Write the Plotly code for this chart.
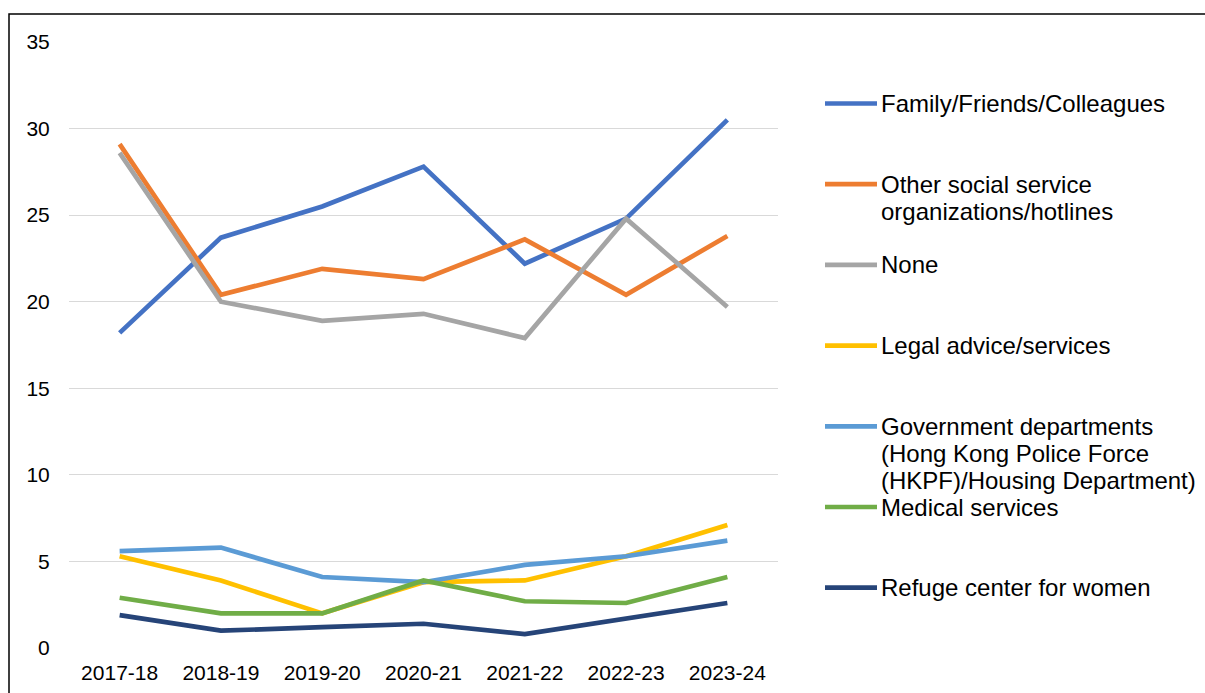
import plotly.graph_objects as go

# Survey years (categories on the x axis)
years = ["2017-18", "2018-19", "2019-20", "2020-21", "2021-22", "2022-23", "2023-24"]

# Percentage of respondents naming each source of help, by year
family_friends = [18.2, 23.7, 25.5, 27.8, 22.2, 24.8, 30.5]
other_social = [29.1, 20.4, 21.9, 21.3, 23.6, 20.4, 23.8]
none_sought = [28.6, 20.0, 18.9, 19.3, 17.9, 24.8, 19.7]
legal_advice = [5.3, 3.9, 2.0, 3.8, 3.9, 5.3, 7.1]
government = [5.6, 5.8, 4.1, 3.8, 4.8, 5.3, 6.2]
medical = [2.9, 2.0, 2.0, 3.9, 2.7, 2.6, 4.1]
refuge = [1.9, 1.0, 1.2, 1.4, 0.8, 1.7, 2.6]

series_names = [
    "Family/Friends/Colleagues",
    "Other social service<br>organizations/hotlines",
    "None",
    "Legal advice/services",
    "Government departments<br>(Hong Kong Police Force<br>(HKPF)/Housing Department)",
    "Medical services",
    "Refuge center for women",
]
series_values = [family_friends, other_social, none_sought, legal_advice,
                 government, medical, refuge]
series_colors = ["#4472C4", "#ED7D31", "#A5A5A5", "#FFC000",
                 "#5B9BD5", "#70AD47", "#264478"]

y_ticks = [0, 5, 10, 15, 20, 25, 30, 35]

# Page geometry (pixels)
W, H = 1205, 693
ML, MR, MT, MB = 69, 427, 42, 45
PW, PH = W - ML - MR, H - MT - MB
FONT = "Arial, 'Liberation Sans', sans-serif"


def px_x(px):
    return (px - ML) / PW


def px_y(py):
    return (H - MB - py) / PH


fig = go.Figure()
for name, vals, col in zip(series_names, series_values, series_colors):
    fig.add_trace(go.Scatter(
        x=years, y=vals, mode="lines", name=name.replace("<br>", " "),
        line=dict(color=col, width=4.7),
        showlegend=False,
    ))

# Hand-built legend on the right, one slot per series
shapes = []
annotations = []
slot0, slot_step, line_gap = 103.5, 80.7, 27
for i, (name, col) in enumerate(zip(series_names, series_colors)):
    yc = slot0 + i * slot_step
    shapes.append(dict(type="line", xref="paper", yref="paper",
                       x0=px_x(825), x1=px_x(877), y0=px_y(yc), y1=px_y(yc),
                       line=dict(color=col, width=4.7)))
    for j, part in enumerate(name.split("<br>")):
        annotations.append(dict(
            xref="paper", yref="paper", x=px_x(879), y=px_y(yc + j * line_gap),
            xanchor="left", yanchor="middle", showarrow=False, text=part,
            font=dict(family=FONT, size=24, color="#000000"),
        ))

# Outer frame around the chart
shapes.append(dict(type="rect", xref="paper", yref="paper",
                   x0=px_x(9), x1=px_x(1400), y0=px_y(900), y1=px_y(14),
                   line=dict(color="#000000", width=1.5), fillcolor="rgba(0,0,0,0)",
                   layer="below"))

fig.update_layout(
    width=W, height=H,
    margin=dict(l=ML, r=MR, t=MT, b=MB, pad=0, autoexpand=False),
    paper_bgcolor="#FFFFFF", plot_bgcolor="#FFFFFF",
    font=dict(family=FONT, color="#000000"),
    shapes=shapes, annotations=annotations,
    showlegend=False,
)
fig.update_xaxes(
    type="category", range=[-0.5, 6.5], showgrid=False, zeroline=False,
    showline=False, automargin=False,
    ticks="outside", ticklen=6, tickcolor="rgba(0,0,0,0)",
    tickfont=dict(family=FONT, size=21, color="#000000"),
)
fig.update_yaxes(
    range=[0, 35], tickvals=y_ticks, showgrid=True, gridcolor="#D9D9D9",
    gridwidth=1.3, zeroline=False, showline=False, automargin=False,
    ticks="outside", ticklen=14, tickcolor="rgba(0,0,0,0)",
    tickfont=dict(family=FONT, size=21, color="#000000"),
)

fig.write_html("out.html")
